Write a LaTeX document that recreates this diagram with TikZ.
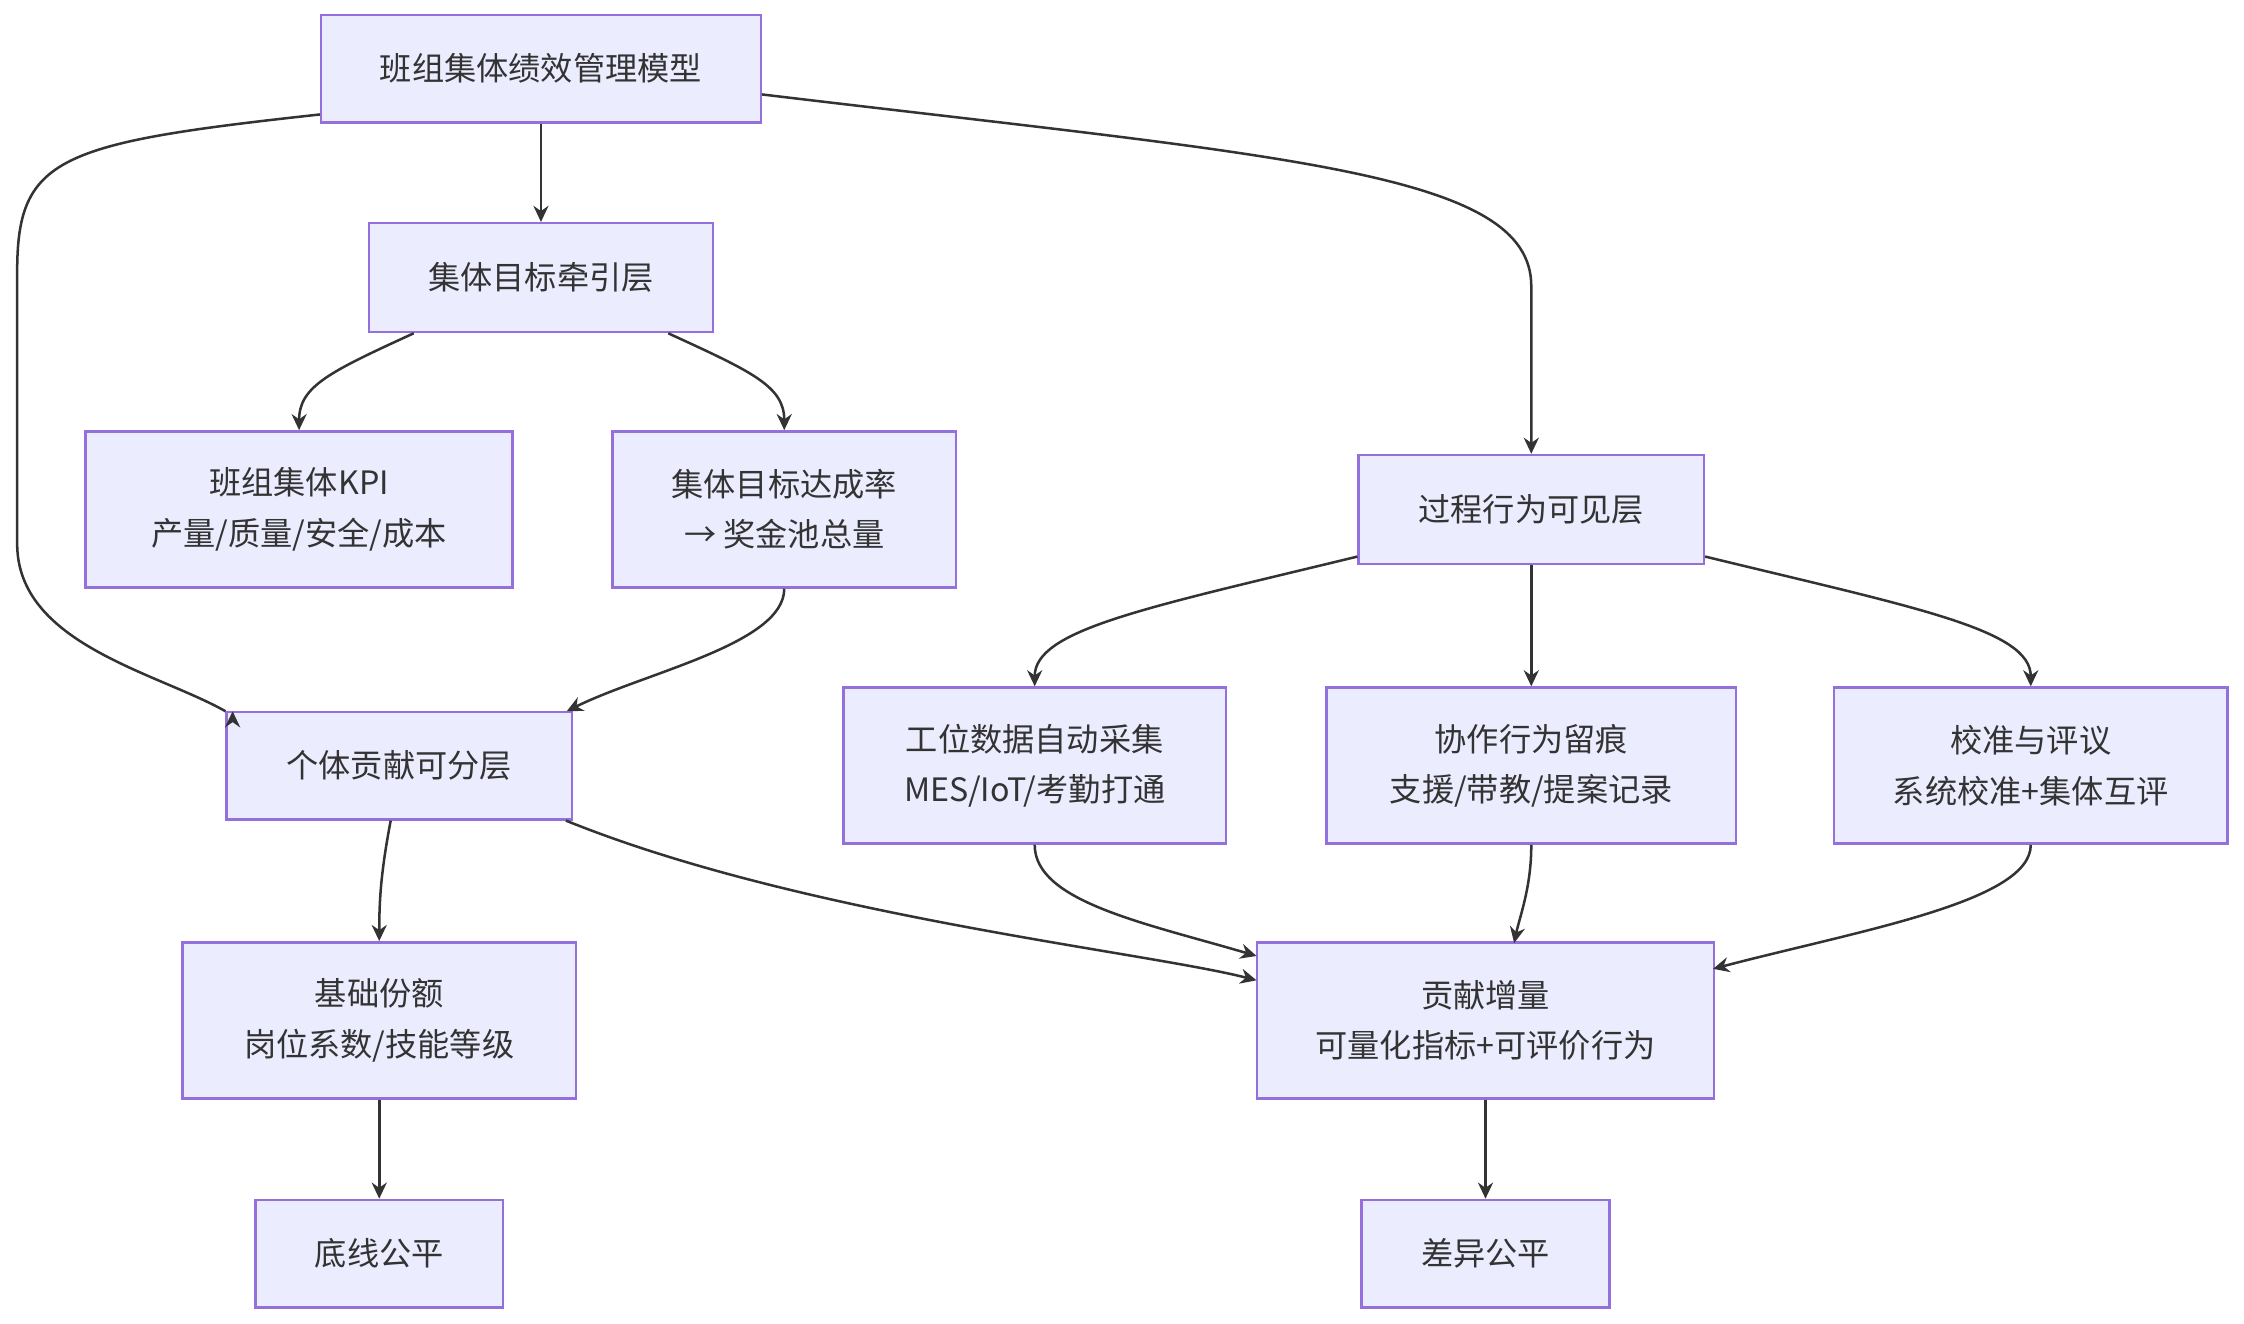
\documentclass[tikz,border=0pt]{standalone}
\usepackage{fontspec}
\setmainfont{Noto Sans CJK SC}
\usetikzlibrary{arrows.meta}
\definecolor{boxfill}{HTML}{ECECFF}
\definecolor{boxline}{HTML}{9370DB}
\definecolor{edge}{HTML}{333333}
\tikzset{
  box/.style={draw=boxline,fill=boxfill,line width=0.5pt,align=center,
    font=\fontsize{6.4}{10}\selectfont,text=edge,inner sep=0pt},
  link/.style={draw=edge,line width=0.5pt,-{Stealth[length=3.2pt,width=3pt]}}
}
\begin{document}
\begin{tikzpicture}[x=0.01cm,y=-0.01cm]
  \useasboundingbox (0,0) rectangle (1568,925);
  % layers
  \node [box,minimum width=3.07cm,minimum height=0.75cm] (model) at (378,48) {班组集体绩效管理模型};
  \node [box,minimum width=2.40cm,minimum height=0.76cm] (goal) at (378,194) {集体目标牵引层};
  \node [box,minimum width=2.98cm,minimum height=1.09cm] (kpi) at (209,356) {班组集体KPI\\产量/质量/安全/成本};
  \node [box,minimum width=2.40cm,minimum height=1.09cm] (rate) at (548,356) {集体目标达成率\\→ 奖金池总量};
  \node [box,minimum width=2.41cm,minimum height=0.76cm] (proc) at (1070,356) {过程行为可见层};
  \node [box,minimum width=2.41cm,minimum height=0.75cm] (indiv) at (279,535) {个体贡献可分层};
  \node [box,minimum width=2.67cm,minimum height=1.09cm] (station) at (723,535) {工位数据自动采集\\MES/IoT/考勤打通};
  \node [box,minimum width=2.86cm,minimum height=1.09cm] (coop) at (1070,535) {协作行为留痕\\支援/带教/提案记录};
  \node [box,minimum width=2.75cm,minimum height=1.09cm] (calib) at (1419,535) {校准与评议\\系统校准+集体互评};
  \node [box,minimum width=2.75cm,minimum height=1.09cm] (base) at (265,713) {基础份额\\岗位系数/技能等级};
  \node [box,minimum width=3.19cm,minimum height=1.09cm] (incr) at (1038,713) {贡献增量\\可量化指标+可评价行为};
  \node [box,minimum width=1.73cm,minimum height=0.75cm] (floor) at (265,876) {底线公平};
  \node [box,minimum width=1.73cm,minimum height=0.75cm] (diff) at (1038,876) {差异公平};
  % connectors
  \draw [link] (model) -- (goal);
  \draw [link] (model.west |- 0,80) .. controls (40,100) and (12,110) .. (12,190) -- (12,380)
    .. controls (12,450) and (110,470) .. (indiv.north west |- 0,497) ++(5,0);
  \draw [link] (model.east |- 0,66) .. controls (900,110) and (1070,120) .. (1070,200) -- (proc.north);
  \draw [link] (goal.south west) ++(32,0) .. controls (230,260) and (209,270) .. (kpi.north);
  \draw [link] (goal.south east) ++(-32,0) .. controls (526,260) and (548,270) .. (rate.north);
  \draw [link] (rate.south) .. controls (548,450) and (450,470) .. (396,497);
  \draw [link] (proc.south west) ++(0,-6) .. controls (800,425) and (723,440) .. (station.north);
  \draw [link] (proc) -- (coop);
  \draw [link] (proc.south east) ++(0,-6) .. controls (1340,425) and (1419,440) .. (calib.north);
  \draw [link] (indiv.south) ++(-6,0) .. controls (266,610) and (265,630) .. (base.north);
  \draw [link] (indiv.south east) ++(-5,0) .. controls (560,640) and (800,665) .. (878,685);
  \draw [link] (station.south) .. controls (723,630) and (800,645) .. (878,668);
  \draw [link] (coop.south) .. controls (1070,620) and (1062,640) .. (1058,659);
  \draw [link] (calib.south) .. controls (1419,630) and (1300,650) .. (1197,677);
  \draw [link] (base) -- (floor);
  \draw [link] (incr) -- (diff);
\end{tikzpicture}
\end{document}
